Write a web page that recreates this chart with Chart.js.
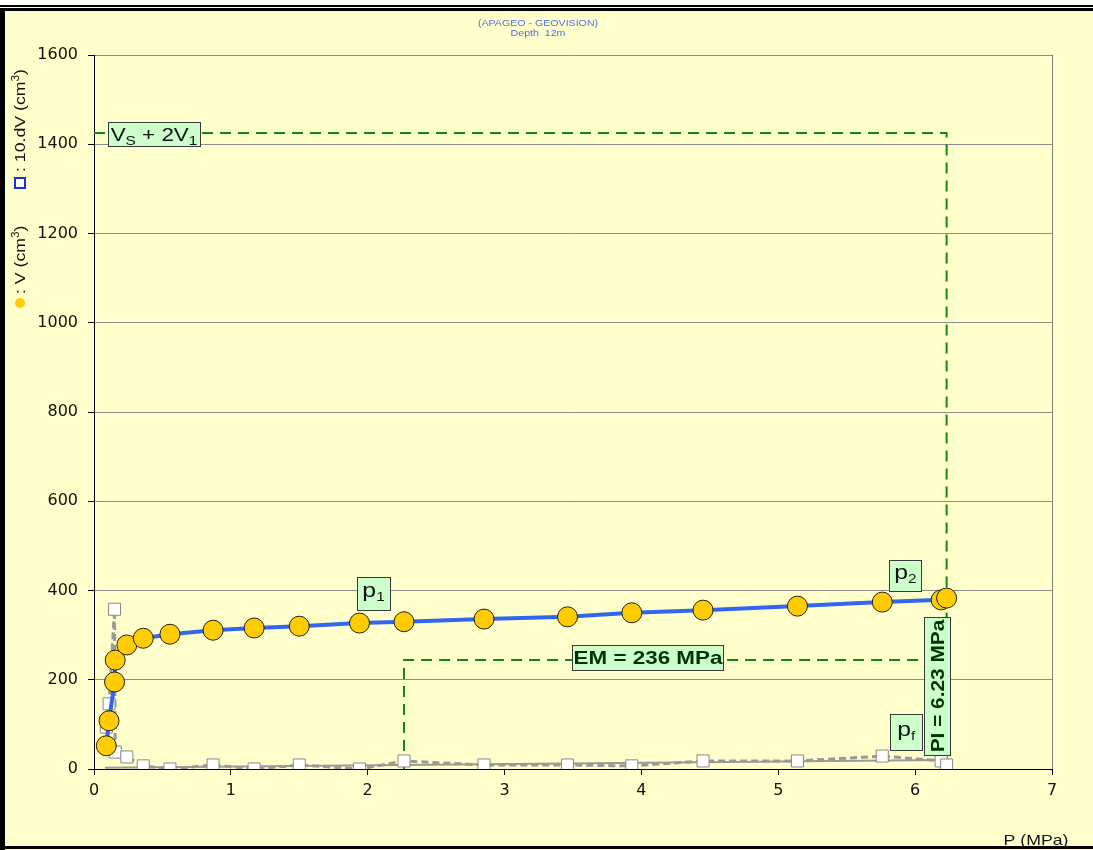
<!DOCTYPE html>
<html>
<head>
<meta charset="utf-8">
<script src="https://cdn.jsdelivr.net/npm/chart.js@4.4.0/dist/chart.umd.min.js"></script>
<style>
    html, body { margin: 0; padding: 0; background: #fff; }
    #wrap { width: 1093px; height: 850px; }
</style>
</head>
<body>
<div id="wrap"><canvas id="grafico"></canvas></div>
<script>
// Essai pressiométrique - profondeur 12 m
const pressure = [0.09, 0.11, 0.15, 0.155, 0.24, 0.36, 0.555, 0.87, 1.17, 1.50, 1.94, 2.265, 2.85, 3.46, 3.93, 4.45, 5.14, 5.76, 6.19, 6.23];
const volume = [52, 108, 195, 244, 278, 293, 302, 311, 316, 320, 327, 330, 336, 341, 350, 356, 365, 374, 379, 383];
const creep = [94, 146, 358, 38, 27, 7, 0, 9, 0, 9, 0, 18, 9, 9, 7, 18, 18, 29, 18, 9]; // 10.dV

const trendP = [0.08, 6.19];
const trendV = [3, 20];

const limitVolume = 1425;   // Vs + 2V1
const limitPressure = 6.23; // PI
const emPressure = 2.265;
const emVolume = 244;

const xTickValues = [0, 1, 2, 3, 4, 5, 6, 7];
const yTickValues = [0, 200, 400, 600, 800, 1000, 1200, 1400, 1600];

const titleLines = ['(APAGEO - GEOVISION)', 'Depth  12m'];

const STRETCH = 1.18;
const FONT = '"Liberation Sans", Arial, sans-serif';

function toPoints(xs, ys) {
    return xs.map((x, i) => ({ x: x, y: ys[i] }));
}

// texte avec indices / exposants: parts = [{t, size, dy, bold}]
function richWidth(ctx, parts) {
    let w = 0;
    parts.forEach(p => {
        ctx.font = (p.bold ? 'bold ' : '') + p.size + 'px ' + FONT;
        w += ctx.measureText(p.t).width;
    });
    return w * STRETCH;
}

function drawRich(ctx, parts, x, y, color) {
    ctx.save();
    ctx.translate(x, y);
    ctx.scale(STRETCH, 1);
    ctx.fillStyle = color;
    ctx.textBaseline = 'alphabetic';
    ctx.textAlign = 'left';
    let cx = 0;
    parts.forEach(p => {
        ctx.font = (p.bold ? 'bold ' : '') + p.size + 'px ' + FONT;
        ctx.fillText(p.t, cx, p.dy || 0);
        cx += ctx.measureText(p.t).width;
    });
    ctx.restore();
}

function labelBox(ctx, cx, cy, w, h) {
    ctx.save();
    ctx.fillStyle = '#ccffcc';
    ctx.strokeStyle = '#3a3a3a';
    ctx.lineWidth = 1;
    ctx.fillRect(Math.round(cx - w / 2) + 0.5, Math.round(cy - h / 2) + 0.5, w, h);
    ctx.strokeRect(Math.round(cx - w / 2) + 0.5, Math.round(cy - h / 2) + 0.5, w, h);
    ctx.restore();
}

function boxedText(ctx, parts, cx, cy, w, h, color, baseShift) {
    labelBox(ctx, cx, cy, w, h);
    const tw = richWidth(ctx, parts);
    drawRich(ctx, parts, cx - tw / 2, cy + baseShift, color);
}

const framePlugin = {
    id: 'cadre',
    beforeDraw(chart) {
        const ctx = chart.ctx;
        const W = chart.width, H = chart.height;
        ctx.save();
        ctx.fillStyle = '#ffffff';
        ctx.fillRect(0, 0, W, H);
        ctx.fillStyle = '#ffffcc';
        ctx.fillRect(0, 8, W, H - 8);
        ctx.fillStyle = '#000';
        ctx.fillRect(0, 5, W, 2);
        ctx.fillRect(0, 8, W, 3);
        ctx.fillRect(0, 8, 5, H - 8);
        ctx.fillRect(0, H - 4, W, 3);

        // titre
        ctx.fillStyle = '#4f6fe6';
        ctx.textAlign = 'center';
        ctx.textBaseline = 'middle';
        ctx.font = '9px ' + FONT;
        ctx.save();
        ctx.translate(538, 0);
        ctx.scale(STRETCH, 1);
        ctx.fillText(titleLines[0], 0, 24);
        ctx.fillText(titleLines[1], 0, 34);
        ctx.restore();
        ctx.restore();
    },
    beforeDatasetsDraw(chart) {
        const ctx = chart.ctx;
        const a = chart.chartArea;
        ctx.save();
        ctx.strokeStyle = '#808080';
        ctx.lineWidth = 1;
        ctx.beginPath();
        ctx.moveTo(Math.round(a.right) + 0.5, a.top);
        ctx.lineTo(Math.round(a.right) + 0.5, a.bottom);
        ctx.stroke();
        ctx.restore();
    },
    afterDraw(chart) {
        const ctx = chart.ctx;
        const xs = chart.scales.x, ys = chart.scales.y;
        const px = v => xs.getPixelForValue(v);
        const py = v => ys.getPixelForValue(v);

        // légende de l'axe vertical
        ctx.save();
        ctx.translate(20, 305);
        ctx.rotate(-Math.PI / 2);
        ctx.fillStyle = '#ffcc00';
        ctx.beginPath();
        ctx.arc(2, 0, 5, 0, Math.PI * 2);
        ctx.fill();
        drawRich(ctx, [
            { t: ': V (cm', size: 15 },
            { t: '3', size: 10, dy: -6 },
            { t: ')', size: 15 }
        ], 11, 5, '#111');
        ctx.fillStyle = '#fff';
        ctx.fillRect(117, -5, 10, 10);
        ctx.strokeStyle = '#1a2fe0';
        ctx.lineWidth = 2;
        ctx.strokeRect(117, -5, 10, 10);
        drawRich(ctx, [
            { t: ': 10.dV (cm', size: 15 },
            { t: '3', size: 10, dy: -6 },
            { t: ')', size: 15 }
        ], 133, 5, '#111');
        ctx.restore();

        // titre de l'axe horizontal
        const pw = richWidth(ctx, [{ t: 'P (MPa)', size: 15 }]);
        drawRich(ctx, [{ t: 'P (MPa)', size: 15 }], 1036 - pw / 2, 845, '#111');

        // étiquettes
        boxedText(ctx, [
            { t: 'V', size: 19 }, { t: 'S', size: 13, dy: 4 },
            { t: ' + 2V', size: 19 }, { t: '1', size: 13, dy: 4 }
        ], px(0) + 60, py(limitVolume) + 1, 92, 24, '#111', 7);

        boxedText(ctx, [{ t: 'p', size: 21 }, { t: '1', size: 13, dy: 4 }],
            px(pressure[10]) + 14, py(volume[10]) - 30, 33, 33, '#111', 4);
        boxedText(ctx, [{ t: 'p', size: 21 }, { t: '2', size: 13, dy: 4 }],
            px(pressure[17]) + 23, py(volume[17]) - 27, 32, 31, '#111', 4);
        boxedText(ctx, [{ t: 'p', size: 21 }, { t: 'f', size: 13, dy: 4 }],
            px(pressure[17]) + 24, py(creep[17]) - 24, 32, 36, '#111', 4);

        boxedText(ctx, [{ t: 'EM = 236 MPa', size: 19, bold: true }],
            px(emPressure) + 244, py(emVolume) - 3, 151, 25, '#003300', 7);

        // PI vertical
        const cx = px(limitPressure) - 10, cy = py(0) - 83;
        labelBox(ctx, cx, cy, 26, 138);
        ctx.save();
        ctx.translate(cx, cy);
        ctx.rotate(-Math.PI / 2);
        const parts = [{ t: 'PI = 6.23 MPa', size: 19, bold: true }];
        const tw = richWidth(ctx, parts) * 0.93;
        ctx.scale(0.93, 1);
        drawRich(ctx, parts, -tw / 2 / 0.93, 7, '#003300');
        ctx.restore();
    }
};

const greenDash = {
    borderColor: '#0f8a0f',
    borderWidth: 2,
    borderDash: [11, 7],
    pointRadius: 0,
    showLine: true,
    fill: false
};

new Chart(document.getElementById('grafico').getContext('2d'), {
    type: 'scatter',
    data: {
        datasets: [
            {
                label: 'V',
                data: toPoints(pressure, volume),
                showLine: true,
                borderColor: '#3366ee',
                borderWidth: 4,
                pointRadius: 10,
                pointBackgroundColor: '#ffcc00',
                pointBorderColor: '#222',
                pointBorderWidth: 1
            },
            {
                label: '10.dV',
                data: toPoints(pressure, creep),
                showLine: true,
                borderColor: '#999999',
                borderWidth: 3,
                borderDash: [7, 4],
                pointStyle: 'rect',
                pointRadius: 8.5,
                pointBackgroundColor: '#ffffff',
                pointBorderColor: '#888888',
                pointBorderWidth: 1
            },
            {
                label: 'tendance',
                data: toPoints(trendP, trendV),
                showLine: true,
                borderColor: '#9a9a9a',
                borderWidth: 2,
                pointRadius: 0
            },
            Object.assign({
                label: 'Vs + 2V1',
                data: [{ x: 0, y: limitVolume }, { x: limitPressure, y: limitVolume }, { x: limitPressure, y: 0 }]
            }, greenDash),
            Object.assign({
                label: 'EM',
                data: [{ x: emPressure, y: 0 }, { x: emPressure, y: emVolume }, { x: limitPressure, y: emVolume }]
            }, greenDash)
        ]
    },
    options: {
        responsive: true,
        maintainAspectRatio: false,
        animation: false,
        layout: { padding: { top: 55, right: 41, left: 0, bottom: 0 } },
        plugins: {
            legend: { display: false },
            tooltip: { enabled: false },
            title: { display: false }
        },
        scales: {
            x: {
                type: 'linear',
                min: 0,
                max: 7,
                afterBuildTicks: scale => { scale.ticks = xTickValues.map(v => ({ value: v })); },
                afterFit: scale => { scale.height = 81; },
                grid: { drawOnChartArea: false, drawTicks: true, tickLength: 6, tickColor: '#000' },
                border: { color: '#000', width: 1 },
                ticks: { color: '#111', padding: 6, maxRotation: 0, callback: v => String(v), font: { family: 'DejaVu Sans', size: 16 } }
            },
            y: {
                type: 'linear',
                min: 0,
                max: 1600,
                afterBuildTicks: scale => { scale.ticks = yTickValues.map(v => ({ value: v })); },
                afterFit: scale => { scale.width = 94; },
                grid: { color: '#8c8c8c', lineWidth: 1, drawTicks: true, tickLength: 6, tickColor: '#000' },
                border: { color: '#000', width: 1 },
                ticks: { color: '#111', padding: 10, callback: v => String(v), font: { family: 'DejaVu Sans', size: 16 } }
            }
        }
    },
    plugins: [framePlugin]
});
</script>
</body>
</html>
